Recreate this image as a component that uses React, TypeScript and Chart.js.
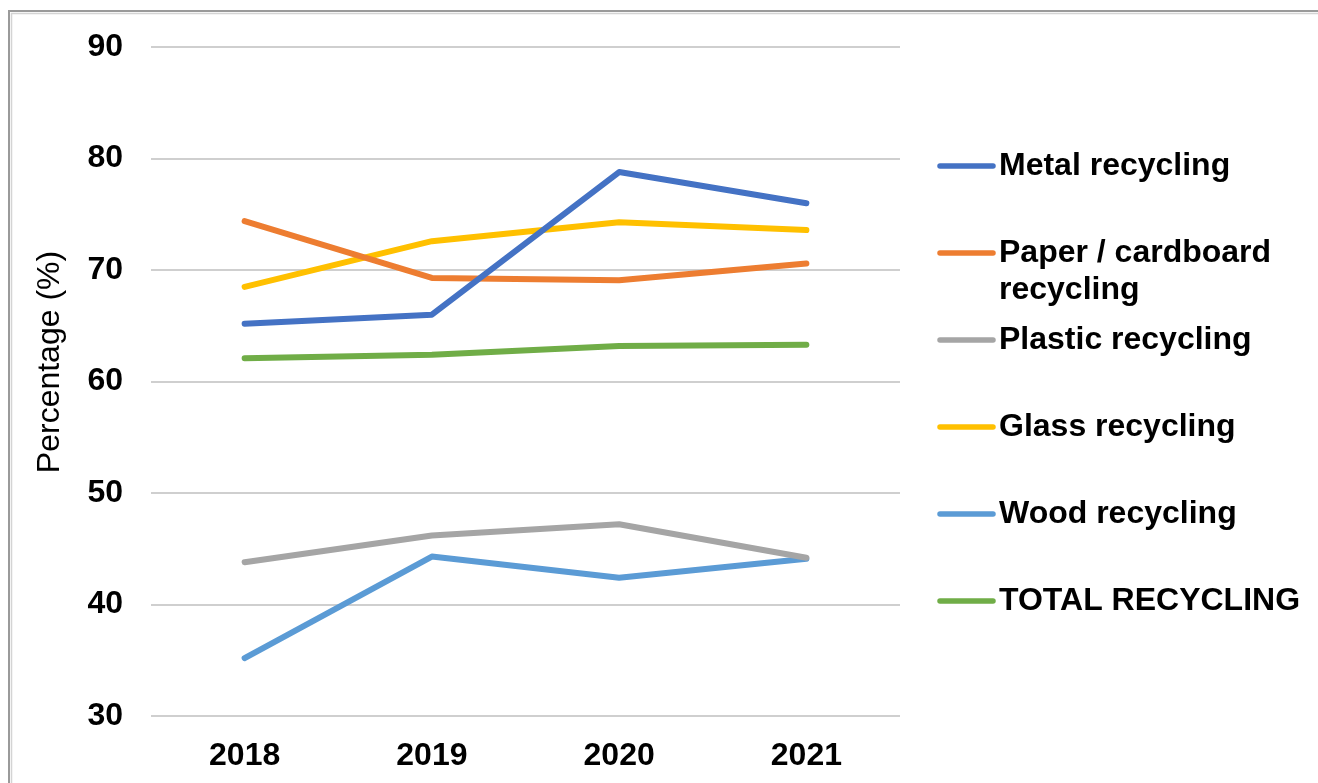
import React, { useEffect, useRef } from "react";
import { Chart, registerables } from "chart.js";

Chart.register(...registerables);

const categories = ["2018", "2019", "2020", "2021"];
const seriesNames = [
  "Metal recycling",
  "Paper / cardboard recycling",
  "Plastic recycling",
  "Glass recycling",
  "Wood recycling",
  "TOTAL RECYCLING",
];
const legendLines = [
  ["Metal recycling"],
  ["Paper / cardboard", "recycling"],
  ["Plastic recycling"],
  ["Glass recycling"],
  ["Wood recycling"],
  ["TOTAL RECYCLING"],
];
const metal = [65.2, 66.0, 78.8, 76.0];
const paper = [74.4, 69.3, 69.1, 70.6];
const plastic = [43.8, 46.2, 47.2, 44.2];
const glass = [68.5, 72.6, 74.3, 73.6];
const wood = [35.2, 44.3, 42.4, 44.1];
const total = [62.1, 62.4, 63.2, 63.3];
const seriesValues = [metal, paper, plastic, glass, wood, total];
const colors = ["#4472C4", "#ED7D31", "#A5A5A5", "#FFC000", "#5B9BD5", "#70AD47"];
const yTitle = "Percentage (%)";

const FONT = '"Liberation Sans", Arial, sans-serif';

const decorPlugin = {
  id: "decor",
  beforeDraw(chart: any) {
    const ctx = chart.ctx;
    ctx.save();
    ctx.lineCap = "butt";
    ctx.strokeStyle = "#9a9a9a";
    ctx.lineWidth = 2;
    ctx.beginPath();
    ctx.moveTo(9, 783);
    ctx.lineTo(9, 11);
    ctx.lineTo(1318, 11);
    ctx.stroke();
    ctx.strokeStyle = "#d4d4d4";
    ctx.lineWidth = 1.5;
    ctx.beginPath();
    ctx.moveTo(11.5, 783);
    ctx.lineTo(11.5, 13.5);
    ctx.lineTo(1318, 13.5);
    ctx.stroke();
    ctx.restore();
  },
  afterDraw(chart: any) {
    const ctx = chart.ctx;
    ctx.save();
    // y axis title
    ctx.translate(50, 362);
    ctx.rotate(-Math.PI / 2);
    ctx.fillStyle = "#000";
    ctx.font = `32px ${FONT}`;
    ctx.textAlign = "center";
    ctx.textBaseline = "middle";
    ctx.fillText(yTitle, 0, 0);
    ctx.restore();

    // legend
    ctx.save();
    const startY = 166;
    const step = 87;
    chart.data.datasets.forEach((ds: any, i: number) => {
      const y = startY + i * step;
      ctx.strokeStyle = ds.borderColor;
      ctx.lineWidth = 5.5;
      ctx.lineCap = "round";
      ctx.beginPath();
      ctx.moveTo(940, y);
      ctx.lineTo(993, y);
      ctx.stroke();
      ctx.fillStyle = "#000";
      ctx.font = `bold 32px ${FONT}`;
      ctx.textAlign = "left";
      ctx.textBaseline = "middle";
      legendLines[i].forEach((line, j) => {
        ctx.fillText(line, 999, y + j * 37);
      });
    });
    ctx.restore();
  },
};

export default function App() {
  const ref = useRef<HTMLCanvasElement | null>(null);
  useEffect(() => {
    if (!ref.current) return;
    const chart = new Chart(ref.current, {
      type: "line",
      data: {
        labels: categories,
        datasets: seriesNames.map((name, i) => ({
          label: name,
          data: seriesValues[i],
          borderColor: colors[i],
          backgroundColor: colors[i],
          borderWidth: 6,
          pointRadius: 0,
          pointHoverRadius: 0,
          borderCapStyle: "round",
          borderJoinStyle: "round",
          tension: 0,
          fill: false,
        })),
      },
      options: {
        animation: false,
        responsive: false,
        maintainAspectRatio: false,
        layout: { padding: { left: 0, top: 45, right: 418, bottom: 0 } },
        plugins: {
          legend: { display: false },
          tooltip: { enabled: false },
          title: { display: false },
        },
        scales: {
          x: {
            type: "category",
            offset: true,
            grid: { display: false, drawTicks: false },
            border: { display: false },
            ticks: {
              color: "#000",
              padding: 21,
              font: { family: FONT, size: 32, weight: "bold" },
            },
            afterFit(scale: any) {
              scale.height = 67;
            },
          },
          y: {
            min: 30,
            max: 90,
            ticks: {
              stepSize: 10,
              color: "#000",
              padding: 28,
              font: { family: FONT, size: 32, weight: "bold" },
            },
            grid: { color: "#cfcfcf", lineWidth: 2, drawTicks: false },
            border: { display: false },
            afterFit(scale: any) {
              scale.width = 151;
            },
          },
        },
      } as any,
      plugins: [decorPlugin],
    });
    return () => chart.destroy();
  }, []);
  return (
    <div style={{ position: "fixed", left: 0, top: 0, width: 1318, height: 783, background: "#fff" }}>
      <canvas ref={ref} width={1318} height={783} style={{ display: "block", width: 1318, height: 783 }} />
    </div>
  );
}
